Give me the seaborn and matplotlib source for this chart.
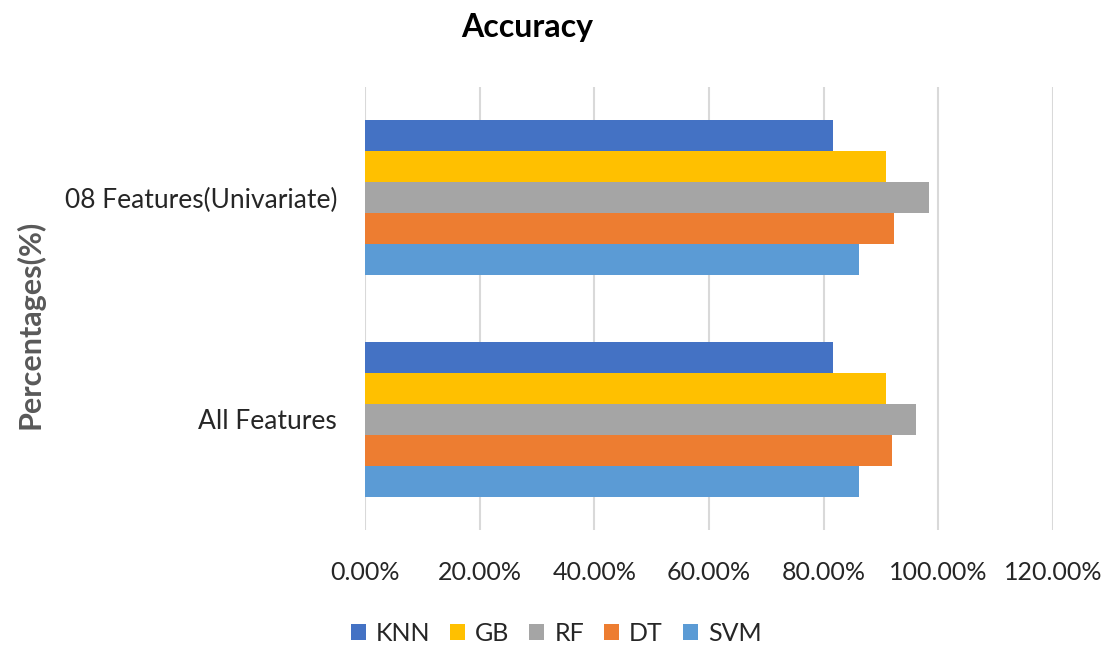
import matplotlib
matplotlib.use("Agg")
import matplotlib.pyplot as plt
from matplotlib.ticker import PercentFormatter, MultipleLocator
from matplotlib.patches import Patch
import seaborn as sns
import pandas as pd

# Accuracy (%) per model for each feature set
feature_sets = ["08 Features(Univariate)", "All Features"]
models = ["KNN", "GB", "RF", "DT", "SVM"]
univariate_acc = [81.6, 90.9, 98.3, 92.3, 86.2]
all_features_acc = [81.6, 90.9, 96.2, 92.0, 86.2]
colors = ["#4472C4", "#FFC000", "#A5A5A5", "#ED7D31", "#5B9BD5"]

df = pd.DataFrame({
    "Feature set": [feature_sets[0]] * len(models) + [feature_sets[1]] * len(models),
    "Model": models * 2,
    "Accuracy": univariate_acc + all_features_acc,
})

sns.set_theme(style="white")
plt.rcParams["font.family"] = ["Lato", "DejaVu Sans"]

fig = plt.figure(figsize=(11.1, 6.46), dpi=100)
ax = fig.add_axes([0.3288, 0.1796, 0.6198, 0.6857])

sns.barplot(
    data=df, y="Feature set", x="Accuracy", hue="Model",
    order=feature_sets, hue_order=models, palette=colors, saturation=1,
    orient="h", width=0.7, linewidth=0, ax=ax, legend=False,
)

ax.set_xlim(0, 120)
ax.set_ylim(1.5, -0.5)
ax.xaxis.set_major_locator(MultipleLocator(20))
ax.xaxis.set_major_formatter(PercentFormatter(xmax=100, decimals=2))
ax.grid(axis="x", color="#D9D9D9", linewidth=1.5)
ax.set_axisbelow(True)
for side in ["top", "right", "bottom", "left"]:
    ax.spines[side].set_visible(False)
ax.tick_params(axis="x", length=0, pad=22, labelsize=18, labelcolor="#262626")
ax.tick_params(axis="y", length=0, pad=20, labelsize=19, labelcolor="#262626")
ax.set_xlabel("")
ax.set_ylabel("")

fig.text(0.475, 0.958, "Accuracy", ha="center", va="center",
         fontsize=23, fontweight="bold", color="#000000")
fig.text(0.027, 0.498, "Percentages(%)", rotation=90, ha="center", va="center",
         fontsize=22, fontweight="bold", color="#595959")

handles = [Patch(facecolor=c, edgecolor="none") for c in colors]
fig.legend(handles, models, loc="center", bbox_to_anchor=(0.501, 0.02),
           ncol=5, frameon=False, fontsize=18, handlelength=0.6, handleheight=0.6,
           handletextpad=0.4, columnspacing=0.8, labelcolor="#262626")

fig.savefig("out.png", dpi=100)
